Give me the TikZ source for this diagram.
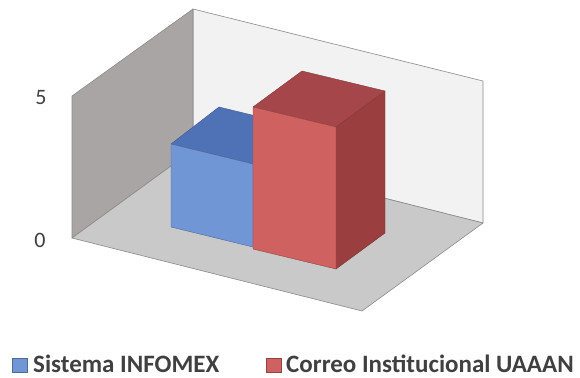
\documentclass[tikz,border=0pt]{standalone}
\usepackage{fontspec}
\setmainfont{Carlito}
\definecolor{leftwall}{HTML}{A9A5A5}
\definecolor{backwall}{HTML}{F2F2F2}
\definecolor{floorc}{HTML}{C9C9C9}
\definecolor{edgec}{HTML}{8A8A8A}
\definecolor{bluefront}{HTML}{7196D6}
\definecolor{bluetop}{HTML}{4E72B5}
\definecolor{blueside}{HTML}{45659F}
\definecolor{redfront}{HTML}{CF6160}
\definecolor{redtop}{HTML}{A5474A}
\definecolor{redside}{HTML}{9B3E40}
\definecolor{txt}{HTML}{404040}
\tikzset{
  panel/.style={draw=edgec, line width=0.6pt, line join=round},
  face/.style={line width=0.4pt, line join=round},
  axislabel/.style={text=txt, font=\fontsize{22}{24}\selectfont, inner sep=0pt},
  legendtext/.style={text=txt, font=\bfseries\fontsize{25}{28}\selectfont, inner sep=0pt, anchor=base west},
  legendkey/.style={line width=0.5pt}
}
\begin{document}
\begin{tikzpicture}[x=1pt,y=-1pt]
\useasboundingbox (0,0) rectangle (580,377);
\fill[white] (0,0) rectangle (580,377);
% walls and floor
\filldraw[panel, fill=backwall] (193,9) -- (483,81) -- (483,223) -- (193,150) -- cycle;
\filldraw[panel, fill=leftwall] (72,96) -- (193,9) -- (193,150) -- (72,238) -- cycle;
\filldraw[panel, fill=floorc] (72,238) -- (193,150) -- (483,223) -- (362,311) -- cycle;
% blue bar
\filldraw[face, fill=blueside, draw=blueside!80!black] (253,164) -- (301,127) -- (301,210) -- (253,247) -- cycle;
\filldraw[face, fill=bluetop, draw=bluetop!80!black] (171,144) -- (219,107) -- (301,127) -- (253,164) -- cycle;
\filldraw[face, fill=bluefront, draw=bluefront!70!black] (171,144) -- (253,164) -- (253,247) -- (171,227) -- cycle;
% red bar
\filldraw[face, fill=redside, draw=redside!80!black] (336,127) -- (385,91) -- (385,233) -- (336,269) -- cycle;
\filldraw[face, fill=redtop, draw=redtop!80!black] (253,107) -- (302,71) -- (385,91) -- (336,127) -- cycle;
\filldraw[face, fill=redfront, draw=redfront!70!black] (253,107) -- (336,127) -- (336,269) -- (253,249) -- cycle;
% axis labels
\node[axislabel] (five) at (41,98) {5};
\node[axislabel] (zero) at (40,240) {0};
% legend
\filldraw[legendkey, fill=bluefront, draw=bluefront!70!black] (12,358) rectangle (27,372);
\node[legendtext] (lega) at (33,372) {Sistema INFOMEX};
\filldraw[legendkey, fill=redfront, draw=redfront!70!black] (266,358) rectangle (281,372);
\node[legendtext] (legb) at (286,372) {Correo Institucional UAAAN};
\end{tikzpicture}
\end{document}
